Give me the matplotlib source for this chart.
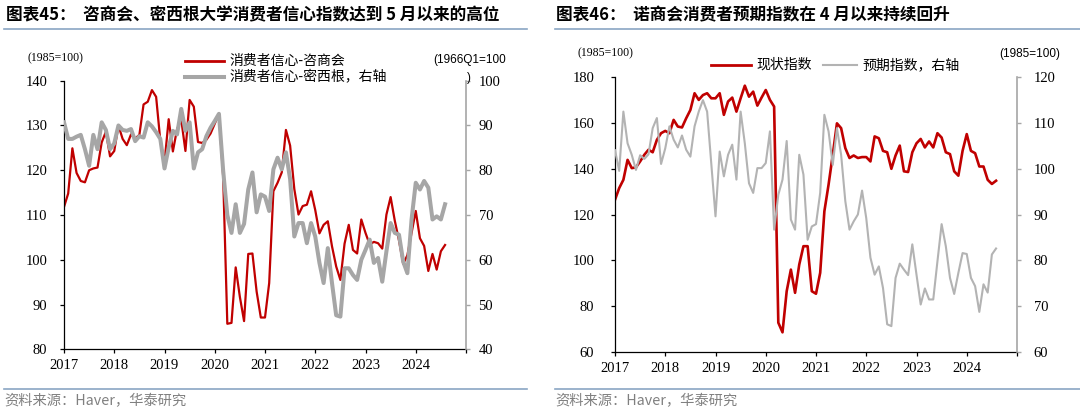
import numpy as np
import matplotlib.pyplot as plt
from matplotlib.lines import Line2D

plt.rcParams['font.family'] = ['Liberation Serif', 'Noto Sans CJK SC']

# monthly data, 2017-01 .. 2024-08
cb_confidence = [111.8, 114.8, 124.9, 119.4, 117.6, 117.3, 120.0, 120.4, 120.6, 126.2, 128.6, 123.1,
                 124.3, 130.0, 127.0, 125.6, 128.0, 127.1, 127.9, 134.7, 135.3, 137.9, 136.4, 126.6,
                 121.7, 131.4, 124.2, 129.2, 131.3, 124.3, 135.7, 134.2, 126.3, 126.1, 126.8, 128.2,
                 130.4, 132.6, 118.8, 85.7, 85.9, 98.3, 91.7, 86.3, 101.3, 101.4, 92.9, 87.1,
                 87.1, 94.8, 115.3, 117.2, 119.5, 129.0, 125.5, 115.8, 110.1, 112.0, 112.3, 115.3,
                 111.1, 105.9, 107.8, 108.6, 103.0, 98.5, 95.5, 103.6, 107.8, 102.2, 101.4, 109.0,
                 106.0, 103.4, 104.0, 103.7, 102.5, 110.1, 114.0, 108.7, 104.3, 99.1, 101.0, 106.0,
                 110.9, 104.8, 103.1, 97.5, 101.3, 97.8, 101.9, 103.3]
umich_expect = [90.7, 87.0, 87.0, 87.5, 87.9, 84.7, 81.0, 87.9, 84.7, 90.7, 89.0, 84.7,
                86.0, 90.0, 89.0, 88.8, 89.2, 86.5, 87.6, 87.3, 90.7, 89.8, 88.5, 87.0,
                80.4, 85.1, 88.8, 88.0, 93.7, 88.8, 90.7, 80.4, 84.0, 84.7, 87.6, 89.5,
                91.0, 92.6, 80.0, 70.0, 66.0, 72.4, 66.0, 68.0, 75.7, 79.5, 70.6, 74.6,
                74.1, 70.9, 80.2, 82.8, 80.2, 84.0, 78.0, 65.2, 68.2, 68.2, 63.7, 68.2,
                65.2, 59.3, 54.8, 62.6, 54.8, 47.6, 47.3, 58.1, 58.1, 56.6, 55.5, 60.0,
                62.2, 64.5, 59.3, 60.4, 55.1, 61.9, 68.2, 66.0, 65.6, 59.6, 57.0, 69.0,
                77.2, 75.7, 77.6, 76.1, 69.0, 69.7, 69.0, 72.4]
cb_present = [126.4, 131.5, 135.1, 143.8, 140.2, 140.5, 143.1, 146.0, 148.2, 147.1, 152.5, 155.4,
              156.4, 155.4, 161.2, 158.3, 157.9, 161.9, 165.5, 172.8, 169.9, 172.0, 172.8, 170.6,
              170.6, 172.8, 163.4, 169.2, 170.9, 164.8, 170.6, 176.1, 171.3, 173.5, 167.4, 170.9,
              174.2, 169.9, 167.0, 72.9, 68.7, 86.6, 96.0, 85.9, 98.2, 106.2, 106.2, 86.6,
              85.5, 94.6, 121.4, 133.0, 146.0, 159.7, 157.6, 148.9, 144.6, 145.7, 144.6, 145.0,
              145.0, 143.1, 154.0, 153.2, 147.7, 147.1, 139.9, 145.7, 150.0, 138.8, 138.5, 147.1,
              151.0, 152.9, 149.2, 151.8, 149.2, 155.4, 153.5, 147.1, 146.3, 138.8, 136.9, 147.7,
              155.0, 147.7, 146.7, 140.9, 140.9, 135.1, 133.3, 134.7]
cb_expect = [104.0, 99.5, 112.4, 105.5, 103.0, 99.7, 102.9, 102.1, 103.1, 108.8, 111.0, 101.0,
             104.4, 109.2, 106.3, 104.6, 107.2, 104.1, 102.6, 109.2, 112.4, 114.9, 112.4, 101.0,
             89.6, 103.7, 98.3, 103.0, 105.2, 97.6, 112.4, 105.5, 96.8, 94.7, 100.1, 100.1,
             101.2, 108.1, 86.7, 94.3, 97.6, 106.0, 88.9, 86.7, 103.0, 98.7, 84.5, 87.4,
             87.9, 94.7, 111.7, 108.1, 100.8, 108.8, 103.0, 92.9, 86.7, 88.5, 90.0, 95.2,
             89.2, 80.6, 76.9, 78.7, 74.0, 66.1, 65.7, 76.2, 79.3, 78.0, 76.8, 83.5,
             76.9, 70.4, 73.9, 71.5, 71.5, 79.8, 87.9, 83.1, 76.2, 72.7, 77.3, 81.6,
             81.4, 76.2, 74.4, 68.8, 74.8, 73.0, 81.3, 82.6]
years = ['2017', '2018', '2019', '2020', '2021', '2022', '2023', '2024']

RED = '#C00000'
GRAY = '#A6A6A6'
GRAY2 = '#B3B3B3'
BLUE = '#8AA6C4'
CJK = ['Noto Sans CJK SC', 'DejaVu Sans']
SANS = ['Liberation Sans', 'DejaVu Sans']

W, H = 1080, 413


def fx(px):
    return px / W


def fy(py):
    return 1 - py / H


def make_axes(x0, x1, y0, y1, ylim, ylim_r, lpad, rpad):
    ax = fig.add_axes([fx(x0), fy(y1), (x1 - x0) / W, (y1 - y0) / H])
    axr = ax.twinx()
    ax.set_xlim(0, 96)
    ax.set_xticks(np.arange(0, 97, 12))
    ax.set_xticklabels(years + [''])
    ax.set_ylim(*ylim)
    ax.set_yticks(np.arange(ylim[0], ylim[1] + 1, (ylim[1] - ylim[0]) // 6))
    axr.set_ylim(*ylim_r)
    axr.set_yticks(np.arange(ylim_r[0], ylim_r[1] + 1, (ylim_r[1] - ylim_r[0]) // 6))
    for a in (ax, axr):
        a.spines['top'].set_visible(False)
    ax.spines['right'].set_visible(False)
    axr.spines['left'].set_visible(False)
    axr.spines['bottom'].set_visible(False)
    axr.spines['right'].set_color(GRAY)
    ax.spines['left'].set_linewidth(0.9)
    ax.spines['bottom'].set_linewidth(0.9)
    axr.spines['right'].set_linewidth(1.2)
    ax.tick_params(axis='x', direction='out', length=3, width=0.9, pad=4, labelsize=10.5)
    ax.tick_params(axis='y', direction='out', length=3, width=0.9, pad=lpad, labelsize=10.5)
    axr.tick_params(axis='y', direction='out', length=3, width=1.0, color=GRAY, pad=rpad, labelsize=10.5)
    return ax, axr


def legend_item(x0, x1, y, color, lw, label):
    fig.add_artist(Line2D([fx(x0), fx(x1)], [fy(y), fy(y)], color=color, lw=lw))
    fig.text(fx(x1 + 5), fy(y), label, family=CJK, fontsize=10, va='center', ha='left')


fig = plt.figure(figsize=(10.8, 4.13), dpi=100)
months = np.arange(len(cb_confidence))

# left panel
ax1, ax1r = make_axes(64, 466, 80.7, 349.3, (80, 140), (40, 100), 9, 6)
ax1.plot(months, cb_confidence, color=RED, lw=1.6)
ax1r.plot(months, umich_expect, color=GRAY, lw=2.9)

fig.text(fx(6), fy(15), '图表45：  咨商会、密西根大学消费者信心指数达到 5 月以来的高位',
         family=CJK, fontsize=12, fontweight='bold', va='center')
fig.add_artist(Line2D([fx(4), fx(527)], [fy(28.5), fy(28.5)], color=BLUE, lw=1.2))
fig.text(fx(27), fy(58.5), '(1985=100)', fontsize=8.5, va='center')
fig.text(fx(433), fy(59.5), '(1966Q1=100', family=SANS, fontsize=8.5, va='center')
fig.text(fx(467), fy(78), ')', family=SANS, fontsize=8.5, va='center')
legend_item(185, 224, 60.7, RED, 2.0, '消费者信心-咨商会')
legend_item(185, 224, 77.3, GRAY, 2.9, '消费者信心-密西根，右轴')
fig.add_artist(Line2D([fx(4), fx(527)], [fy(389.3), fy(389.3)], color=BLUE, lw=1.2))
fig.text(fx(4), fy(401), '资料来源：Haver，华泰研究', family=CJK, fontsize=10.3,
         color='#808080', va='center')

# right panel
ax2, ax2r = make_axes(615, 1017, 76.7, 352.3, (60, 180), (60, 120), 12, 9)
ax2.set_yticks(np.arange(60, 181, 20))
ax2r.set_yticks(np.arange(60, 121, 10))
ax2.plot(months, cb_present, color=RED, lw=1.9)
ax2r.plot(months, cb_expect, color=GRAY2, lw=1.5)

fig.text(fx(556), fy(15), '图表46：  诺商会消费者预期指数在 4 月以来持续回升',
         family=CJK, fontsize=12, fontweight='bold', va='center')
fig.add_artist(Line2D([fx(555), fx(1080)], [fy(28.5), fy(28.5)], color=BLUE, lw=1.2))
fig.text(fx(577), fy(53.5), '(1985=100)', fontsize=8.5, va='center')
fig.text(fx(999), fy(53.5), '(1985=100)', family=SANS, fontsize=8.5, va='center')
legend_item(711, 751, 65, RED, 2.0, '现状指数')
legend_item(823, 857, 65, GRAY2, 1.5, '预期指数，右轴')
fig.add_artist(Line2D([fx(555), fx(1080)], [fy(389.3), fy(389.3)], color=BLUE, lw=1.2))
fig.text(fx(555), fy(401), '资料来源：Haver，华泰研究', family=CJK, fontsize=10.3,
         color='#808080', va='center')

fig.savefig('out.png', dpi=100)
